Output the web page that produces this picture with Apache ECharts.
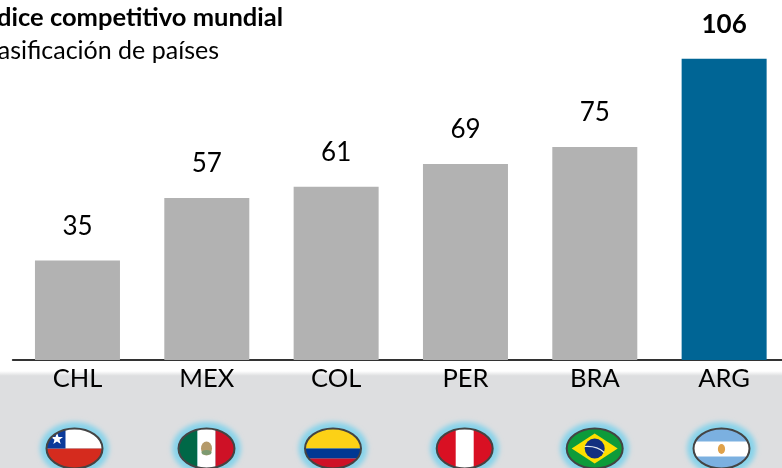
<!DOCTYPE html>
<html><head><meta charset="utf-8">
<style>html,body{margin:0;padding:0;background:#fff}#c{width:782px;height:468px}</style>
<script src="https://cdn.jsdelivr.net/npm/echarts@6/dist/echarts.min.js"></script>
</head><body><div id="c"></div>
<script>
const categories = ['CHL','MEX','COL','PER','BRA','ARG'];
const values = [35,57,61,69,75,106];
const titleMain = 'Índice competitivo mundial';
const titleSub = 'Clasificación de países';

const FONT = 'Lato, "Open Sans", sans-serif';
const GRAY = '#b2b2b2', BLUE = '#006595';

function flagSvg(inner){
  const s = '<svg xmlns="http://www.w3.org/2000/svg" width="92" height="76" viewBox="-46 -38 92 76">'+
   '<defs><clipPath id="k"><ellipse cx="0" cy="0" rx="28" ry="20"/></clipPath>'+
   '<filter id="b" x="-30%" y="-30%" width="160%" height="160%"><feGaussianBlur stdDeviation="2.8"/></filter></defs>'+
   '<ellipse cx="0" cy="0" rx="34.5" ry="26.5" fill="#87d3ea" filter="url(#b)"/>'+
   '<g clip-path="url(#k)">'+inner+'</g>'+
   '<ellipse cx="0" cy="0" rx="28" ry="20" fill="none" stroke="#444" stroke-width="2"/></svg>';
  return 'data:image/svg+xml;charset=utf-8,'+encodeURIComponent(s);
}
const flags = [
 {x:74.5, svg:'<rect x="-30" y="-22" width="60" height="22" fill="#fff"/><rect x="-30" y="0" width="60" height="22" fill="#d52b1e"/><rect x="-30" y="-22" width="21" height="22" fill="#0b3a9a"/><polygon fill="#fff" points="-17.5,-16 -16,-11.6 -11.5,-11.6 -15,-8.8 -13.8,-4.4 -17.5,-7 -21.2,-4.4 -20,-8.8 -23.5,-11.6 -19,-11.6"/>'},
 {x:206.5, svg:'<rect x="-30" y="-22" width="21" height="44" fill="#006847"/><rect x="-9" y="-22" width="18" height="44" fill="#fff"/><rect x="9" y="-22" width="21" height="44" fill="#ce1126"/><ellipse cx="0" cy="0" rx="5.5" ry="7" fill="#b59a6a"/><ellipse cx="0" cy="4" rx="5" ry="2.5" fill="#7d9a70"/>'},
 {x:333, svg:'<rect x="-30" y="-22" width="60" height="22" fill="#fcd116"/><rect x="-30" y="0" width="60" height="10" fill="#003893"/><rect x="-30" y="10" width="60" height="12" fill="#ce1126"/>'},
 {x:464.7, svg:'<rect x="-30" y="-22" width="60" height="44" fill="#d91023"/><rect x="-9" y="-22" width="18" height="44" fill="#fff"/>'},
 {x:594.7, svg:'<rect x="-30" y="-22" width="60" height="44" fill="#0d9b3a"/><polygon points="-23,0 0,-15 23,0 0,15" fill="#fedf00"/><circle r="10" fill="#12307f"/><path d="M-10,-2 Q2,-3 9.5,4" stroke="#dfe6ee" stroke-width="1.2" fill="none"/>'},
 {x:721.5, svg:'<rect x="-30" y="-22" width="60" height="44" fill="#7bb0e0"/><rect x="-30" y="-7" width="60" height="15" fill="#fff"/><ellipse cx="0" cy="0.5" rx="3.6" ry="5" fill="#e0a24a"/>'}
];
const FLAG_Y = 448.5;

const chart = echarts.init(document.getElementById('c'), null, {renderer:'canvas'});
chart.setOption({
  animation:false,
  backgroundColor:'#fff',
  title:[
    {text:titleMain, right:499, top:5, padding:0, textStyle:{fontFamily:FONT,fontWeight:'bold',fontSize:25.5,color:'#000'}},
    {text:titleSub, right:563, top:38, padding:0, textStyle:{fontFamily:FONT,fontWeight:'normal',fontSize:25,color:'#000'}}
  ],
  grid:{left:12.8,width:776,top:19,height:341,outerBoundsMode:'none'},
  xAxis:{type:'category',data:categories,
    axisLine:{show:true,lineStyle:{color:'#333',width:2}},
    axisTick:{show:false},
    axisLabel:{fontFamily:FONT,fontSize:25.5,color:'#000',margin:6,interval:0}},
  yAxis:{type:'value',min:0,max:120,show:false,splitLine:{show:false}},
  series:[{type:'bar',barWidth:85,
    data:values.map((v,i)=>({value:v,
      itemStyle:{color:i===values.length-1?BLUE:GRAY},
      label:i===values.length-1?{fontWeight:'bold'}:{}})),
    label:{show:true,position:'top',distance:21,fontFamily:FONT,fontSize:26,color:'#000'}}],
  graphic:{elements:[
    {type:'rect',z:-10,silent:true,shape:{x:0,y:371,width:782,height:97},
      style:{fill:new echarts.graphic.LinearGradient(0,0,0,1,[
        {offset:0,color:'#ffffff'},{offset:0.05,color:'#dddee0'},{offset:1,color:'#dddee0'}])}}
  ].concat(flags.map(f=>({type:'image',z:-5,silent:true,
      style:{image:flagSvg(f.svg),x:f.x-46,y:FLAG_Y-38,width:92,height:76}})))}
});
</script></body></html>
